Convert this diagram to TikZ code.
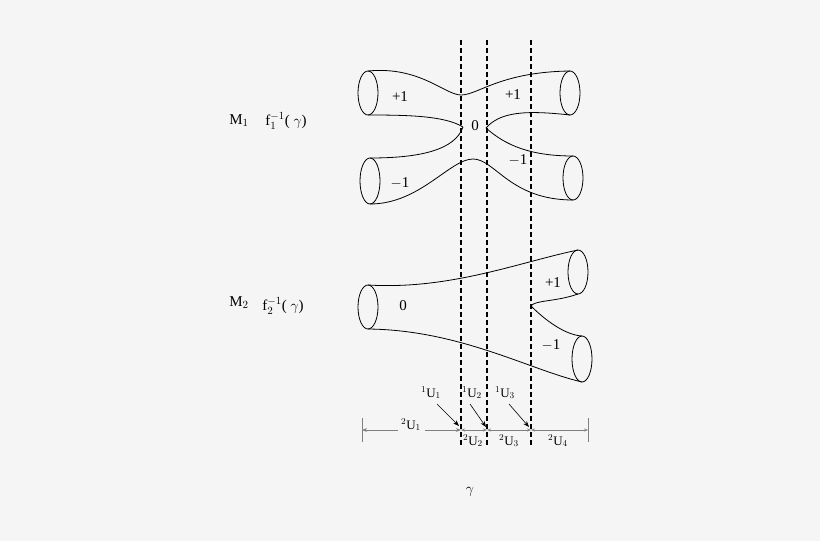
\documentclass[tikz,border=0pt]{standalone}
\usepackage{fontspec}
\setmainfont{Liberation Serif}
\usetikzlibrary{arrows.meta}
\begin{document}
\begin{tikzpicture}[x=1pt,y=-1pt,
 surf/.style={line width=0.8pt},
 dline/.style={line width=1.1pt,dash pattern=on 5pt off 3pt},
 meas/.style={gray,line width=0.5pt},
 lab/.style={font=\fontsize{15}{17}\selectfont,inner sep=0pt},
 sm/.style={font=\fontsize{13}{15}\selectfont,inner sep=0pt}]
\fill[gray!8] (0,0) rectangle (820,541);
\useasboundingbox (0,0) rectangle (820,541);
% dashed lines
\foreach \x/\nm in {461/da,487/db,531/dc}{\coordinate (\nm t) at (\x,40); \coordinate (\nm b) at (\x,445); \draw[dline] (\nm t) -- (\nm b);}
% M1 tubes
\draw[surf] (368,93) ellipse (10 and 22);
\draw[surf] (570,93) ellipse (10 and 22);
\draw[surf] (370,181) ellipse (10 and 23);
\draw[surf] (573,178) ellipse (10 and 22);
\draw[surf] (368,71) .. controls (420,66) and (445,95) .. (461,95) .. controls (478,95) and (500,72) .. (570,71);
\draw[surf] (368,115) .. controls (410,115) and (445,116) .. (463,127);
\draw[surf] (370,158) .. controls (420,158) and (455,150) .. (463,127);
\draw[surf] (570,115) .. controls (525,110) and (500,112) .. (486,128);
\draw[surf] (573,156) .. controls (530,156) and (505,145) .. (486,128);
\draw[surf] (370,204) .. controls (420,204) and (450,159) .. (473,159) .. controls (495,159) and (510,200) .. (573,200);
% M2 tubes
\draw[surf] (368,307) ellipse (10 and 22);
\draw[surf] (578,272) ellipse (10 and 22);
\draw[surf] (582,359) ellipse (10 and 23);
\draw[surf] (368,285) .. controls (450,290) and (520,262) .. (578,250);
\draw[surf] (368,329) .. controls (460,330) and (530,370) .. (582,382);
\draw[surf] (578,294) .. controls (555,302) and (535,300) .. (531,306) .. controls (545,320) and (565,335) .. (582,336);
% labels
\node[lab] at (400,97) {+1};
\node[lab] at (513,95) {+1};
\node[lab] at (475,126) {0};
\node[lab] at (400,183) {$-$1};
\node[lab] at (518,160) {$-$1};
\node[lab] at (403,306) {0};
\node[lab] at (553,283) {+1};
\node[lab] at (551,345) {$-$1};
\node[lab] at (239,121) {M$_1$};
\node[lab] at (286,121) {f$_1^{-1}$( $\gamma$)};
\node[lab] at (239,303) {M$_2$};
\node[lab] at (283,306) {f$_2^{-1}$( $\gamma$)};
\node[lab] at (470,492) {$\gamma$};
% measurement
\coordinate (m0) at (362,430); \coordinate (m4) at (588,430);
\coordinate (m1) at (461,430); \coordinate (m2) at (487,430); \coordinate (m3) at (531,430);
\draw[meas] (362,418) -- (362,442); \draw[meas] (588,418) -- (588,442);
\draw[meas,{Stealth[length=5pt]}-] (m0) -- (398,430);
\draw[meas,-{Stealth[length=5pt]}] (425,430) -- (m1);
\draw[meas,{Stealth[length=4pt]}-{Stealth[length=4pt]}] (m1) -- (m2);
\draw[meas,{Stealth[length=4pt]}-{Stealth[length=4pt]}] (m2) -- (m3);
\draw[meas,{Stealth[length=4pt]}-{Stealth[length=4pt]}] (m3) -- (m4);
\node[sm] at (411,425) {$^2$U$_1$};
\node[sm] at (473,441) {$^2$U$_2$};
\node[sm] at (509,441) {$^2$U$_3$};
\node[sm] at (558,441) {$^2$U$_4$};
\node[sm] (a1) at (431,393) {$^1$U$_1$};
\node[sm] (a2) at (472,393) {$^1$U$_2$};
\node[sm] (a3) at (505,393) {$^1$U$_3$};
\draw[-{Stealth[length=6pt]},line width=0.6pt] (437,404) -- (459,426);
\draw[-{Stealth[length=6pt]},line width=0.6pt] (470,404) -- (486,427);
\draw[-{Stealth[length=6pt]},line width=0.6pt] (509,404) -- (529,427);
\end{tikzpicture}
\end{document}
